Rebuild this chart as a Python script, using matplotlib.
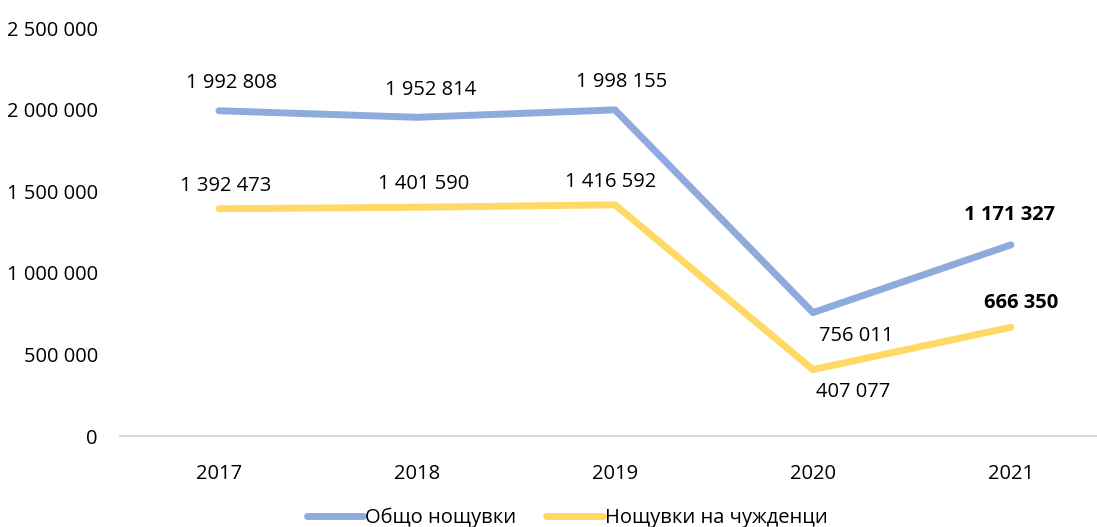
import matplotlib
matplotlib.use("Agg")
import matplotlib.pyplot as plt

years = ["2017", "2018", "2019", "2020", "2021"]
total_nights = [1992808, 1952814, 1998155, 756011, 1171327]
foreign_nights = [1392473, 1401590, 1416592, 407077, 666350]
series_names = ["Общо нощувки", "Нощувки на чужденци"]
yticks = [0, 500000, 1000000, 1500000, 2000000, 2500000]

blue = "#8FAADC"
yellow = "#FFD966"

plt.rcParams['font.family'] = ['Open Sans', 'DejaVu Sans']

def fmt(v):
    return f"{v:,}".replace(",", " ")

FS = 14.5

fig = plt.figure(figsize=(10.97, 5.27), dpi=100)
ax = fig.add_axes([120/1097, (527-436)/527, 977/1097, 408/527])

x = list(range(len(years)))
ax.plot(x, total_nights, color=blue, lw=5, solid_capstyle='round', solid_joinstyle='round', label=series_names[0])
ax.plot(x, foreign_nights, color=yellow, lw=5, solid_capstyle='round', solid_joinstyle='round', label=series_names[1])

off_total = [(13, 28), (14, 27), (7, 28), (43, -23), (-1, 30)]
off_foreign = [(7, 23), (7, 23), (-4, 23), (40, -22), (10, 24)]
for i, v in enumerate(total_nights):
    ax.annotate(fmt(v), (i, v), xytext=off_total[i], textcoords='offset pixels',
                ha='center', va='center', fontsize=FS, color='#000000',
                fontweight='bold' if i == len(years) - 1 else 'normal')
for i, v in enumerate(foreign_nights):
    ax.annotate(fmt(v), (i, v), xytext=off_foreign[i], textcoords='offset pixels',
                ha='center', va='center', fontsize=FS, color='#000000',
                fontweight='bold' if i == len(years) - 1 else 'normal')

ax.set_xlim(-0.5, -0.5 + 977/198)
ax.set_ylim(0, 2500000)
ax.set_xticks(x)
ax.set_xticklabels(years)
ax.set_yticks(yticks)
ax.set_yticklabels([fmt(t) for t in yticks])
ax.tick_params(axis='both', length=0, labelsize=FS, colors='#000000')
ax.tick_params(axis='x', pad=20)
ax.tick_params(axis='y', pad=16)
for s in ['top', 'right', 'left']:
    ax.spines[s].set_visible(False)
ax.spines['bottom'].set_color('#D9D9D9')
ax.spines['bottom'].set_linewidth(1.5)

fig.legend(loc='center', bbox_to_anchor=(567/1097, (527-518)/527), ncol=2, frameon=False,
           fontsize=FS, handlelength=2.8, handletextpad=0.1, columnspacing=1.5)

fig.savefig("out.png", dpi=100)
